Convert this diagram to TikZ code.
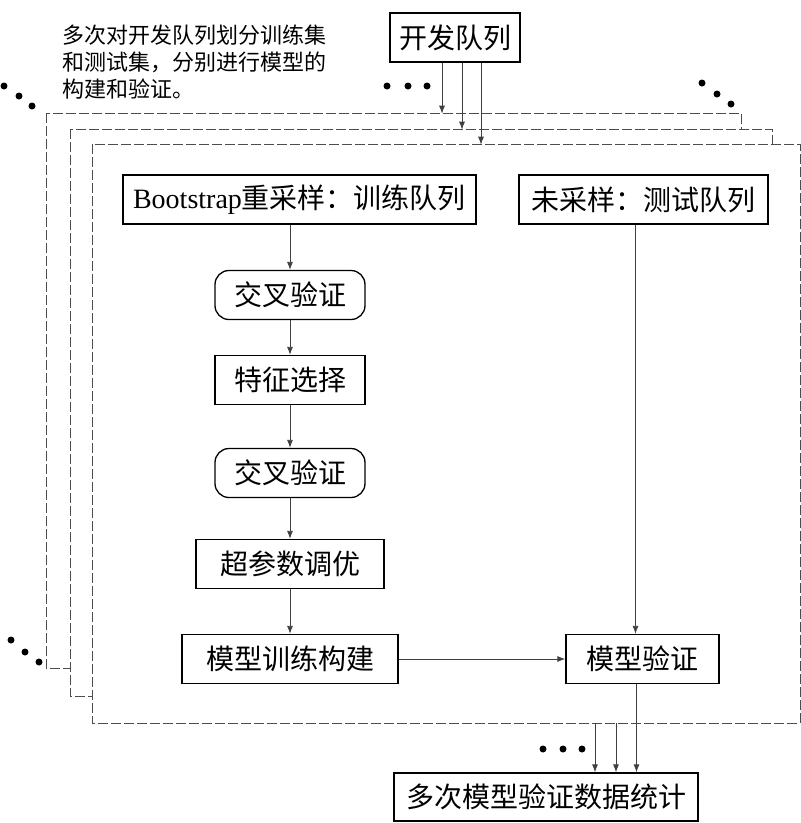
\documentclass[tikz,border=0pt]{standalone}
\usepackage{fontspec}
\setmainfont{Liberation Serif}
\newfontfamily\cjk{Noto Sans CJK SC}
\usetikzlibrary{positioning,arrows.meta}

\begin{document}
\begin{tikzpicture}[x=1pt,y=-1pt,
				procbox/.style={draw,line width=1.3pt,rectangle,minimum height=49pt,inner sep=2pt,font=\cjk\fontsize{28}{32}\selectfont},
				roundbox/.style={procbox,rounded corners=14pt},
				layerframe/.style={draw=black!70,fill=white,dash pattern=on 10pt off 3pt,line width=0.8pt},
				flow/.style={draw=black!75,line width=0.8pt,-{Latex[length=8pt,width=6pt]}},
				blob/.style={circle,fill=black,inner sep=0pt,minimum size=7pt}]
				\useasboundingbox (0,0) rectangle (801,823);
				% stacked rounds of the split
				\path[layerframe] (46,113) rectangle (741,668);
				\path[layerframe] (70,129) rectangle (772,696);
				\path[layerframe] (92,144) rectangle (800,723);
				
				\node (dev)   [procbox,minimum width=130pt,font=\cjk\fontsize{28}{32}\selectfont] at (455,37.5) {开发队列};
				\node (note)  [anchor=north west,align=left,inner sep=0pt,font=\cjk\fontsize{22}{27}\selectfont] at (62,25) {多次对开发队列划分训练集\\和测试集，分别进行模型的\\构建和验证。};
				\node (boot)  [procbox,minimum width=353pt] at (299.5,199.5) {{\rmfamily Bootstrap}重采样：训练队列};
				\node (test)  [procbox,minimum width=249pt] at (643.5,199.5) {未采样：测试队列};
				\node (cv1)   [roundbox,minimum width=150pt] at (290,295) {交叉验证};
				\node (fs)    [procbox,minimum width=150pt] at (290,380) {特征选择};
				\node (cv2)   [roundbox,minimum width=150pt] at (290,473) {交叉验证};
				\node (hp)    [procbox,minimum width=188pt] at (290,564) {超参数调优};
				\node (train) [procbox,minimum width=216pt] at (290,659) {模型训练构建};
				\node (val)   [procbox,minimum width=153pt] at (642.5,659) {模型验证};
				\node (stats) [procbox,minimum width=304pt,minimum height=48pt] at (546,797) {多次模型验证数据统计};
				
				\coordinate (r1) at (595,723);
				\coordinate (r2) at (616,723);
				
				\draw[flow] ([xshift=-13pt]dev.south) -- ++(0,51);
				\draw[flow] ([xshift=7pt]dev.south) -- ++(0,67);
				\draw[flow] ([xshift=26pt]dev.south) -- ++(0,82);
				\draw[flow] (boot.south -| cv1.north) -- (cv1.north);
				\draw[flow] (cv1) -- (fs);
				\draw[flow] (fs) -- (cv2);
				\draw[flow] (cv2) -- (hp);
				\draw[flow] (hp) -- (train);
				\draw[flow] ([xshift=-8pt]test.south) -- ([xshift=-7pt]val.north);
				\draw[flow] (train) -- (val);
				\draw[flow] ([xshift=-6pt]val.south) -- ([xshift=-6pt]val.south |- stats.north);
				\draw[flow] (r1) -- (r1 |- stats.north);
				\draw[flow] (r2) -- (r2 |- stats.north);
				
				% ellipsis dots
				\foreach \px/\py in {4/86,19/96,32/106, 387/86,408/86,427/86, 702/83,717/94,731/104,
					11/640,25/652,39/662, 543/749,563/749,582/749}
					\node[blob] at (\px,\py) {};
			\end{tikzpicture}
\end{document}
